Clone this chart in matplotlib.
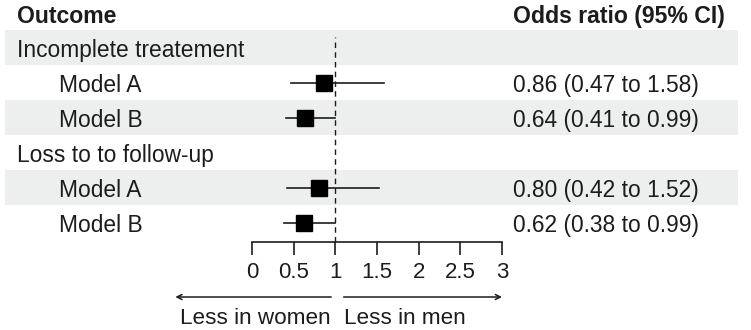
import matplotlib
matplotlib.use("Agg")
import matplotlib.pyplot as plt
from matplotlib.transforms import blended_transform_factory

plt.rcParams["font.family"] = ["Liberation Sans", "DejaVu Sans"]

# rows of the forest plot, top to bottom
row_labels = ["Incomplete treatement", "Model A", "Model B",
              "Loss to to follow-up", "Model A", "Model B"]
is_header = [True, False, False, True, False, False]
odds_ratio = [None, 0.86, 0.64, None, 0.80, 0.62]
ci_low = [None, 0.47, 0.41, None, 0.42, 0.38]
ci_high = [None, 1.58, 0.99, None, 1.52, 0.99]
ci_text = ["", "0.86 (0.47 to 1.58)", "0.64 (0.41 to 0.99)",
           "", "0.80 (0.42 to 1.52)", "0.62 (0.38 to 0.99)"]
xticks = [0, 0.5, 1, 1.5, 2, 2.5, 3]
xticklabels = ["0", "0.5", "1", "1.5", "2", "2.5", "3"]

W, H = 751, 330
txt = "#1c1c1c"
band = "#edefef"

fig = plt.figure(figsize=(W / 100, H / 100), dpi=100)
# plot area: x 0..3 spans pixels 252..502, rows span y 30..242
ax = fig.add_axes([252 / W, 1 - 242 / H, 250 / W, 212 / H])
ax.set_xlim(0, 3)
ax.set_ylim(5.557, -0.5)

for s in ["top", "right", "left"]:
    ax.spines[s].set_visible(False)
ax.spines["bottom"].set_linewidth(1.2)
ax.spines["bottom"].set_color(txt)
ax.set_yticks([])
ax.set_xticks(xticks)
ax.set_xticklabels(xticklabels)
ax.tick_params(axis="x", length=9.5, width=1.2, color=txt, pad=5,
               labelsize=16, labelcolor=txt)

# shaded bands
x0, x1 = (5 - 252) / 250, (738 - 252) / 250
for i in range(len(row_labels)):
    if i % 2 == 0:
        ax.axhspan(i - 0.5, i + 0.5, xmin=x0, xmax=x1, color=band,
                   lw=0, zorder=0, clip_on=False)

# reference line
ax.axvline(1, ymin=0, ymax=(242 - 37) / 212, color=txt, lw=1,
           ls=(0, (4, 3)), zorder=1)

# estimates
for i, (est, lo, hi) in enumerate(zip(odds_ratio, ci_low, ci_high)):
    if est is None:
        continue
    ax.plot([lo, hi], [i, i], color=txt, lw=1.2, zorder=2)
    ax.plot(est, i, marker="s", ms=12, color="black", zorder=3)

# text columns
tr = blended_transform_factory(fig.transFigure, ax.transData)
for i, lab in enumerate(row_labels):
    xpix = 17 if is_header[i] else 59
    ax.text(xpix / W, i + 0.08, lab, transform=tr, ha="left", va="center",
            fontsize=16.4, color=txt, clip_on=False)
    if ci_text[i]:
        ax.text(513 / W, i + 0.08, ci_text[i], transform=tr, ha="left",
                va="center", fontsize=16.4, color=txt, clip_on=False)

ax.text(17 / W, -0.88, "Outcome", transform=tr, ha="left", va="center",
        fontsize=16.6, fontweight="bold", color=txt, clip_on=False)
ax.text(513 / W, -0.88, "Odds ratio (95% CI)", transform=tr, ha="left",
        va="center", fontsize=16.6, fontweight="bold", color=txt,
        clip_on=False)

# direction arrows
xt = ax.get_xaxis_transform()
ya = (242 - 297) / 212
ax.annotate("", xy=(-0.92, ya), xytext=(0.95, ya), xycoords=xt,
            textcoords=xt, annotation_clip=False,
            arrowprops=dict(arrowstyle="->", color=txt, lw=1.1,
                            shrinkA=0, shrinkB=0, mutation_scale=9))
ax.annotate("", xy=(3.0, ya), xytext=(1.1, ya), xycoords=xt,
            textcoords=xt, annotation_clip=False,
            arrowprops=dict(arrowstyle="->", color=txt, lw=1.1,
                            shrinkA=0, shrinkB=0, mutation_scale=9))
yl = (242 - 318) / 212
ax.text(0.94, yl, "Less in women", transform=xt, ha="right", va="center",
        fontsize=16.2, color=txt, clip_on=False)
ax.text(1.1, yl, "Less in men", transform=xt, ha="left", va="center",
        fontsize=16.2, color=txt, clip_on=False)

fig.savefig("out.png", dpi=100, facecolor="white")
